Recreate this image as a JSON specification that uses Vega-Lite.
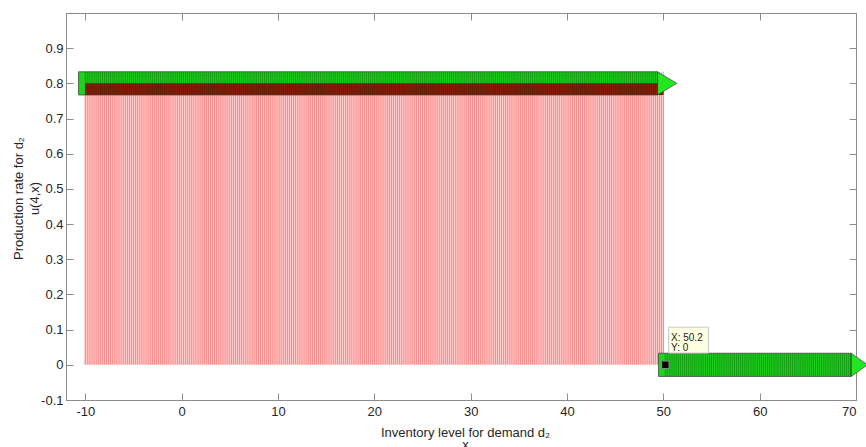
{
  "$schema": "https://vega.github.io/schema/vega-lite/v6.json",
  "width": 790,
  "height": 387,
  "autosize": {"type": "none"},
  "padding": {"left": 66, "top": 13, "right": 10, "bottom": 47},
  "background": "white",
  "config": {
    "view": {"stroke": "#8c8c8c", "strokeWidth": 1},
    "axis": {
      "grid": false,
      "domainColor": "#8c8c8c",
      "tickColor": "#8c8c8c",
      "tickSize": -7,
      "labelFont": "Liberation Sans",
      "labelFontSize": 13,
      "labelColor": "#262626",
      "titleFont": "Liberation Sans",
      "titleFontSize": 13,
      "titleFontWeight": "normal",
      "titleColor": "#262626"
    }
  },
  "datasets": {
    "stems": [
      {"x":-10,"u":0.8},{"x":-9.8,"u":0.8},{"x":-9.6,"u":0.8},{"x":-9.4,"u":0.8},{"x":-9.2,"u":0.8},
      {"x":-9,"u":0.8},{"x":-8.8,"u":0.8},{"x":-8.6,"u":0.8},{"x":-8.4,"u":0.8},{"x":-8.2,"u":0.8},
      {"x":-8,"u":0.8},{"x":-7.8,"u":0.8},{"x":-7.6,"u":0.8},{"x":-7.4,"u":0.8},{"x":-7.2,"u":0.8},
      {"x":-7,"u":0.8},{"x":-6.8,"u":0.8},{"x":-6.6,"u":0.8},{"x":-6.4,"u":0.8},{"x":-6.2,"u":0.8},
      {"x":-6,"u":0.8},{"x":-5.8,"u":0.8},{"x":-5.6,"u":0.8},{"x":-5.4,"u":0.8},{"x":-5.2,"u":0.8},
      {"x":-5,"u":0.8},{"x":-4.8,"u":0.8},{"x":-4.6,"u":0.8},{"x":-4.4,"u":0.8},{"x":-4.2,"u":0.8},
      {"x":-4,"u":0.8},{"x":-3.8,"u":0.8},{"x":-3.6,"u":0.8},{"x":-3.4,"u":0.8},{"x":-3.2,"u":0.8},
      {"x":-3,"u":0.8},{"x":-2.8,"u":0.8},{"x":-2.6,"u":0.8},{"x":-2.4,"u":0.8},{"x":-2.2,"u":0.8},
      {"x":-2,"u":0.8},{"x":-1.8,"u":0.8},{"x":-1.6,"u":0.8},{"x":-1.4,"u":0.8},{"x":-1.2,"u":0.8},
      {"x":-1,"u":0.8},{"x":-0.8,"u":0.8},{"x":-0.6,"u":0.8},{"x":-0.4,"u":0.8},{"x":-0.2,"u":0.8},
      {"x":0,"u":0.8},{"x":0.2,"u":0.8},{"x":0.4,"u":0.8},{"x":0.6,"u":0.8},{"x":0.8,"u":0.8},
      {"x":1,"u":0.8},{"x":1.2,"u":0.8},{"x":1.4,"u":0.8},{"x":1.6,"u":0.8},{"x":1.8,"u":0.8},
      {"x":2,"u":0.8},{"x":2.2,"u":0.8},{"x":2.4,"u":0.8},{"x":2.6,"u":0.8},{"x":2.8,"u":0.8},
      {"x":3,"u":0.8},{"x":3.2,"u":0.8},{"x":3.4,"u":0.8},{"x":3.6,"u":0.8},{"x":3.8,"u":0.8},
      {"x":4,"u":0.8},{"x":4.2,"u":0.8},{"x":4.4,"u":0.8},{"x":4.6,"u":0.8},{"x":4.8,"u":0.8},
      {"x":5,"u":0.8},{"x":5.2,"u":0.8},{"x":5.4,"u":0.8},{"x":5.6,"u":0.8},{"x":5.8,"u":0.8},
      {"x":6,"u":0.8},{"x":6.2,"u":0.8},{"x":6.4,"u":0.8},{"x":6.6,"u":0.8},{"x":6.8,"u":0.8},
      {"x":7,"u":0.8},{"x":7.2,"u":0.8},{"x":7.4,"u":0.8},{"x":7.6,"u":0.8},{"x":7.8,"u":0.8},
      {"x":8,"u":0.8},{"x":8.2,"u":0.8},{"x":8.4,"u":0.8},{"x":8.6,"u":0.8},{"x":8.8,"u":0.8},
      {"x":9,"u":0.8},{"x":9.2,"u":0.8},{"x":9.4,"u":0.8},{"x":9.6,"u":0.8},{"x":9.8,"u":0.8},
      {"x":10,"u":0.8},{"x":10.2,"u":0.8},{"x":10.4,"u":0.8},{"x":10.6,"u":0.8},{"x":10.8,"u":0.8},
      {"x":11,"u":0.8},{"x":11.2,"u":0.8},{"x":11.4,"u":0.8},{"x":11.6,"u":0.8},{"x":11.8,"u":0.8},
      {"x":12,"u":0.8},{"x":12.2,"u":0.8},{"x":12.4,"u":0.8},{"x":12.6,"u":0.8},{"x":12.8,"u":0.8},
      {"x":13,"u":0.8},{"x":13.2,"u":0.8},{"x":13.4,"u":0.8},{"x":13.6,"u":0.8},{"x":13.8,"u":0.8},
      {"x":14,"u":0.8},{"x":14.2,"u":0.8},{"x":14.4,"u":0.8},{"x":14.6,"u":0.8},{"x":14.8,"u":0.8},
      {"x":15,"u":0.8},{"x":15.2,"u":0.8},{"x":15.4,"u":0.8},{"x":15.6,"u":0.8},{"x":15.8,"u":0.8},
      {"x":16,"u":0.8},{"x":16.2,"u":0.8},{"x":16.4,"u":0.8},{"x":16.6,"u":0.8},{"x":16.8,"u":0.8},
      {"x":17,"u":0.8},{"x":17.2,"u":0.8},{"x":17.4,"u":0.8},{"x":17.6,"u":0.8},{"x":17.8,"u":0.8},
      {"x":18,"u":0.8},{"x":18.2,"u":0.8},{"x":18.4,"u":0.8},{"x":18.6,"u":0.8},{"x":18.8,"u":0.8},
      {"x":19,"u":0.8},{"x":19.2,"u":0.8},{"x":19.4,"u":0.8},{"x":19.6,"u":0.8},{"x":19.8,"u":0.8},
      {"x":20,"u":0.8},{"x":20.2,"u":0.8},{"x":20.4,"u":0.8},{"x":20.6,"u":0.8},{"x":20.8,"u":0.8},
      {"x":21,"u":0.8},{"x":21.2,"u":0.8},{"x":21.4,"u":0.8},{"x":21.6,"u":0.8},{"x":21.8,"u":0.8},
      {"x":22,"u":0.8},{"x":22.2,"u":0.8},{"x":22.4,"u":0.8},{"x":22.6,"u":0.8},{"x":22.8,"u":0.8},
      {"x":23,"u":0.8},{"x":23.2,"u":0.8},{"x":23.4,"u":0.8},{"x":23.6,"u":0.8},{"x":23.8,"u":0.8},
      {"x":24,"u":0.8},{"x":24.2,"u":0.8},{"x":24.4,"u":0.8},{"x":24.6,"u":0.8},{"x":24.8,"u":0.8},
      {"x":25,"u":0.8},{"x":25.2,"u":0.8},{"x":25.4,"u":0.8},{"x":25.6,"u":0.8},{"x":25.8,"u":0.8},
      {"x":26,"u":0.8},{"x":26.2,"u":0.8},{"x":26.4,"u":0.8},{"x":26.6,"u":0.8},{"x":26.8,"u":0.8},
      {"x":27,"u":0.8},{"x":27.2,"u":0.8},{"x":27.4,"u":0.8},{"x":27.6,"u":0.8},{"x":27.8,"u":0.8},
      {"x":28,"u":0.8},{"x":28.2,"u":0.8},{"x":28.4,"u":0.8},{"x":28.6,"u":0.8},{"x":28.8,"u":0.8},
      {"x":29,"u":0.8},{"x":29.2,"u":0.8},{"x":29.4,"u":0.8},{"x":29.6,"u":0.8},{"x":29.8,"u":0.8},
      {"x":30,"u":0.8},{"x":30.2,"u":0.8},{"x":30.4,"u":0.8},{"x":30.6,"u":0.8},{"x":30.8,"u":0.8},
      {"x":31,"u":0.8},{"x":31.2,"u":0.8},{"x":31.4,"u":0.8},{"x":31.6,"u":0.8},{"x":31.8,"u":0.8},
      {"x":32,"u":0.8},{"x":32.2,"u":0.8},{"x":32.4,"u":0.8},{"x":32.6,"u":0.8},{"x":32.8,"u":0.8},
      {"x":33,"u":0.8},{"x":33.2,"u":0.8},{"x":33.4,"u":0.8},{"x":33.6,"u":0.8},{"x":33.8,"u":0.8},
      {"x":34,"u":0.8},{"x":34.2,"u":0.8},{"x":34.4,"u":0.8},{"x":34.6,"u":0.8},{"x":34.8,"u":0.8},
      {"x":35,"u":0.8},{"x":35.2,"u":0.8},{"x":35.4,"u":0.8},{"x":35.6,"u":0.8},{"x":35.8,"u":0.8},
      {"x":36,"u":0.8},{"x":36.2,"u":0.8},{"x":36.4,"u":0.8},{"x":36.6,"u":0.8},{"x":36.8,"u":0.8},
      {"x":37,"u":0.8},{"x":37.2,"u":0.8},{"x":37.4,"u":0.8},{"x":37.6,"u":0.8},{"x":37.8,"u":0.8},
      {"x":38,"u":0.8},{"x":38.2,"u":0.8},{"x":38.4,"u":0.8},{"x":38.6,"u":0.8},{"x":38.8,"u":0.8},
      {"x":39,"u":0.8},{"x":39.2,"u":0.8},{"x":39.4,"u":0.8},{"x":39.6,"u":0.8},{"x":39.8,"u":0.8},
      {"x":40,"u":0.8},{"x":40.2,"u":0.8},{"x":40.4,"u":0.8},{"x":40.6,"u":0.8},{"x":40.8,"u":0.8},
      {"x":41,"u":0.8},{"x":41.2,"u":0.8},{"x":41.4,"u":0.8},{"x":41.6,"u":0.8},{"x":41.8,"u":0.8},
      {"x":42,"u":0.8},{"x":42.2,"u":0.8},{"x":42.4,"u":0.8},{"x":42.6,"u":0.8},{"x":42.8,"u":0.8},
      {"x":43,"u":0.8},{"x":43.2,"u":0.8},{"x":43.4,"u":0.8},{"x":43.6,"u":0.8},{"x":43.8,"u":0.8},
      {"x":44,"u":0.8},{"x":44.2,"u":0.8},{"x":44.4,"u":0.8},{"x":44.6,"u":0.8},{"x":44.8,"u":0.8},
      {"x":45,"u":0.8},{"x":45.2,"u":0.8},{"x":45.4,"u":0.8},{"x":45.6,"u":0.8},{"x":45.8,"u":0.8},
      {"x":46,"u":0.8},{"x":46.2,"u":0.8},{"x":46.4,"u":0.8},{"x":46.6,"u":0.8},{"x":46.8,"u":0.8},
      {"x":47,"u":0.8},{"x":47.2,"u":0.8},{"x":47.4,"u":0.8},{"x":47.6,"u":0.8},{"x":47.8,"u":0.8},
      {"x":48,"u":0.8},{"x":48.2,"u":0.8},{"x":48.4,"u":0.8},{"x":48.6,"u":0.8},{"x":48.8,"u":0.8},
      {"x":49,"u":0.8},{"x":49.2,"u":0.8},{"x":49.4,"u":0.8},{"x":49.6,"u":0.8},{"x":49.8,"u":0.8},
      {"x":50,"u":0.8},
      {"x":50.2,"u":0},{"x":50.4,"u":0},{"x":50.6,"u":0},{"x":50.8,"u":0},
      {"x":51,"u":0},{"x":51.2,"u":0},{"x":51.4,"u":0},{"x":51.6,"u":0},{"x":51.8,"u":0},
      {"x":52,"u":0},{"x":52.2,"u":0},{"x":52.4,"u":0},{"x":52.6,"u":0},{"x":52.8,"u":0},
      {"x":53,"u":0},{"x":53.2,"u":0},{"x":53.4,"u":0},{"x":53.6,"u":0},{"x":53.8,"u":0},
      {"x":54,"u":0},{"x":54.2,"u":0},{"x":54.4,"u":0},{"x":54.6,"u":0},{"x":54.8,"u":0},
      {"x":55,"u":0},{"x":55.2,"u":0},{"x":55.4,"u":0},{"x":55.6,"u":0},{"x":55.8,"u":0},
      {"x":56,"u":0},{"x":56.2,"u":0},{"x":56.4,"u":0},{"x":56.6,"u":0},{"x":56.8,"u":0},
      {"x":57,"u":0},{"x":57.2,"u":0},{"x":57.4,"u":0},{"x":57.6,"u":0},{"x":57.8,"u":0},
      {"x":58,"u":0},{"x":58.2,"u":0},{"x":58.4,"u":0},{"x":58.6,"u":0},{"x":58.8,"u":0},
      {"x":59,"u":0},{"x":59.2,"u":0},{"x":59.4,"u":0},{"x":59.6,"u":0},{"x":59.8,"u":0},
      {"x":60,"u":0},{"x":60.2,"u":0},{"x":60.4,"u":0},{"x":60.6,"u":0},{"x":60.8,"u":0},
      {"x":61,"u":0},{"x":61.2,"u":0},{"x":61.4,"u":0},{"x":61.6,"u":0},{"x":61.8,"u":0},
      {"x":62,"u":0},{"x":62.2,"u":0},{"x":62.4,"u":0},{"x":62.6,"u":0},{"x":62.8,"u":0},
      {"x":63,"u":0},{"x":63.2,"u":0},{"x":63.4,"u":0},{"x":63.6,"u":0},{"x":63.8,"u":0},
      {"x":64,"u":0},{"x":64.2,"u":0},{"x":64.4,"u":0},{"x":64.6,"u":0},{"x":64.8,"u":0},
      {"x":65,"u":0},{"x":65.2,"u":0},{"x":65.4,"u":0},{"x":65.6,"u":0},{"x":65.8,"u":0},
      {"x":66,"u":0},{"x":66.2,"u":0},{"x":66.4,"u":0},{"x":66.6,"u":0},{"x":66.8,"u":0},
      {"x":67,"u":0},{"x":67.2,"u":0},{"x":67.4,"u":0},{"x":67.6,"u":0},{"x":67.8,"u":0},
      {"x":68,"u":0},{"x":68.2,"u":0},{"x":68.4,"u":0},{"x":68.6,"u":0},{"x":68.8,"u":0},
      {"x":69,"u":0},{"x":69.2,"u":0},{"x":69.4,"u":0},{"x":69.6,"u":0},{"x":69.8,"u":0},
      {"x":70,"u":0}
    ],
    "arrows": [
      {"arrow": "top", "xs": -10.7, "xe": 49.4, "ylo": 0.767, "yhi": 0.833},
      {"arrow": "bottom", "xs": 49.5, "xe": 69.5, "ylo": -0.033, "yhi": 0.033}
    ],
    "heads": [
      {"arrow": "top", "x": 49.4, "lo": 0.767, "hi": 0.833},
      {"arrow": "top", "x": 51.4, "lo": 0.8, "hi": 0.8},
      {"arrow": "bottom", "x": 69.5, "lo": -0.033, "hi": 0.033},
      {"arrow": "bottom", "x": 71.2, "lo": 0, "hi": 0}
    ]
  },
  "resolve": {"axis": {"x": "independent", "y": "independent"}},
  "layer": [
    {
      "data": {"name": "stems"},
      "transform": [{"filter": "datum.u > 0"}],
      "mark": {"type": "rule", "color": "#ff1a1a", "opacity": 0.5, "strokeWidth": 1.4},
      "encoding": {
        "x": {
          "field": "x", "type": "quantitative",
          "scale": {"domain": [-12, 70], "nice": false, "zero": false},
          "axis": {
            "orient": "bottom",
            "values": [-10, 0, 10, 20, 30, 40, 50, 60, 70],
            "labelExpr": "'' + datum.value",
            "labelPadding": 12,
            "title": ["Inventory level for demand d₂", "x"],
            "titleX": 399,
            "titleY": 36,
            "titleAlign": "center",
            "titleBaseline": "alphabetic",
            "titleLineHeight": 12
          }
        },
        "y": {
          "field": "u", "type": "quantitative",
          "scale": {"domain": [-0.1, 1], "nice": false, "zero": false},
          "axis": {
            "orient": "left",
            "values": [-0.1, 0, 0.1, 0.2, 0.3, 0.4, 0.5, 0.6, 0.7, 0.8, 0.9],
            "labelExpr": "'' + datum.value",
            "labelPadding": 10,
            "title": ["Production rate for d₂", "u(4,x)"],
            "titleAngle": -90,
            "titleX": -48,
            "titleY": 185,
            "titleAlign": "center",
            "titleBaseline": "middle",
            "titleLineHeight": 16
          }
        },
        "y2": {"datum": 0}
      }
    },
    {
      "data": {"name": "arrows"},
      "mark": {"type": "rect", "fill": "#1ed21e"},
      "encoding": {
        "x": {"field": "xs", "type": "quantitative", "scale": {"domain": [-12, 70], "nice": false, "zero": false}, "axis": null},
        "x2": {"field": "xe"},
        "y": {"field": "ylo", "type": "quantitative", "scale": {"domain": [-0.1, 1], "nice": false, "zero": false}, "axis": null},
        "y2": {"field": "yhi"}
      }
    },
    {
      "data": {"values": [{"xs": -10, "xe": 50, "lo": 0.767, "hi": 0.8}]},
      "mark": {"type": "rect", "fill": "#8e1a08"},
      "encoding": {
        "x": {"field": "xs", "type": "quantitative", "scale": {"domain": [-12, 70], "nice": false, "zero": false}, "axis": null},
        "x2": {"field": "xe"},
        "y": {"field": "lo", "type": "quantitative", "scale": {"domain": [-0.1, 1], "nice": false, "zero": false}, "axis": null},
        "y2": {"field": "hi"}
      }
    },
    {
      "data": {"name": "stems"},
      "transform": [{"filter": "datum.u > 0"}],
      "mark": {"type": "rule", "color": "#003000", "opacity": 0.4, "strokeWidth": 0.8},
      "encoding": {
        "x": {"field": "x", "type": "quantitative", "scale": {"domain": [-12, 70], "nice": false, "zero": false}, "axis": null},
        "y": {"datum": 0.767, "type": "quantitative", "scale": {"domain": [-0.1, 1], "nice": false, "zero": false}, "axis": null},
        "y2": {"datum": 0.833}
      }
    },
    {
      "data": {"name": "stems"},
      "transform": [{"filter": "datum.u == 0 && datum.x < 69.5"}],
      "mark": {"type": "rule", "color": "#003000", "opacity": 0.4, "strokeWidth": 0.8},
      "encoding": {
        "x": {"field": "x", "type": "quantitative", "scale": {"domain": [-12, 70], "nice": false, "zero": false}, "axis": null},
        "y": {"datum": -0.033, "type": "quantitative", "scale": {"domain": [-0.1, 1], "nice": false, "zero": false}, "axis": null},
        "y2": {"datum": 0.033}
      }
    },
    {
      "data": {"name": "heads"},
      "mark": {"type": "area", "fill": "#22e622", "stroke": "#333333", "strokeWidth": 0.6, "orient": "vertical"},
      "encoding": {
        "x": {"field": "x", "type": "quantitative", "scale": {"domain": [-12, 70], "nice": false, "zero": false}, "axis": null},
        "y": {"field": "lo", "type": "quantitative", "scale": {"domain": [-0.1, 1], "nice": false, "zero": false}, "axis": null},
        "y2": {"field": "hi"},
        "detail": {"field": "arrow"}
      }
    },
    {
      "data": {"name": "arrows"},
      "mark": {"type": "rect", "fill": null, "fillOpacity": 0, "stroke": "#3a3a3a", "strokeWidth": 0.7},
      "encoding": {
        "x": {"field": "xs", "type": "quantitative", "scale": {"domain": [-12, 70], "nice": false, "zero": false},
              "axis": {"orient": "top", "values": [-10, 0, 10, 20, 30, 40, 50, 60, 70], "labels": false, "title": null}},
        "x2": {"field": "xe"},
        "y": {"field": "ylo", "type": "quantitative", "scale": {"domain": [-0.1, 1], "nice": false, "zero": false},
              "axis": {"orient": "right", "values": [-0.1, 0, 0.1, 0.2, 0.3, 0.4, 0.5, 0.6, 0.7, 0.8, 0.9], "labels": false, "title": null}},
        "y2": {"field": "yhi"}
      }
    },
    {
      "mark": {"type": "rule", "color": "#505050", "strokeWidth": 1.3},
      "encoding": {
        "y": {"datum": 0, "type": "quantitative", "scale": {"domain": [-0.1, 1], "nice": false, "zero": false}, "axis": null}
      }
    },
    {
      "data": {"values": [{"x1": 50.55, "x2": 54.7, "y1": 0.0335, "y2": 0.107}]},
      "mark": {"type": "rect", "fill": "#ffffe1", "stroke": "#c8c8c8", "strokeWidth": 1},
      "encoding": {
        "x": {"field": "x1", "type": "quantitative", "scale": {"domain": [-12, 70], "nice": false, "zero": false}, "axis": null},
        "x2": {"field": "x2"},
        "y": {"field": "y1", "type": "quantitative", "scale": {"domain": [-0.1, 1], "nice": false, "zero": false}, "axis": null},
        "y2": {"field": "y2"}
      }
    },
    {
      "data": {"values": [{"tx": 50.8, "ty": 0.0677, "label": "X: 50.2"}, {"tx": 50.8, "ty": 0.039, "label": "Y: 0"}]},
      "mark": {"type": "text", "align": "left", "baseline": "alphabetic", "font": "Liberation Sans", "fontSize": 10, "color": "#1a1a1a"},
      "encoding": {
        "x": {"field": "tx", "type": "quantitative", "scale": {"domain": [-12, 70], "nice": false, "zero": false}, "axis": null},
        "y": {"field": "ty", "type": "quantitative", "scale": {"domain": [-0.1, 1], "nice": false, "zero": false}, "axis": null},
        "text": {"field": "label"}
      }
    },
    {
      "data": {"values": [{"x": 50.2, "y": 0}]},
      "mark": {"type": "point", "shape": "square", "filled": true, "fill": "#000000", "stroke": "#8a8a8a", "strokeWidth": 1, "size": 56, "opacity": 1},
      "encoding": {
        "x": {"field": "x", "type": "quantitative", "scale": {"domain": [-12, 70], "nice": false, "zero": false}, "axis": null},
        "y": {"field": "y", "type": "quantitative", "scale": {"domain": [-0.1, 1], "nice": false, "zero": false}, "axis": null}
      }
    }
  ]
}
